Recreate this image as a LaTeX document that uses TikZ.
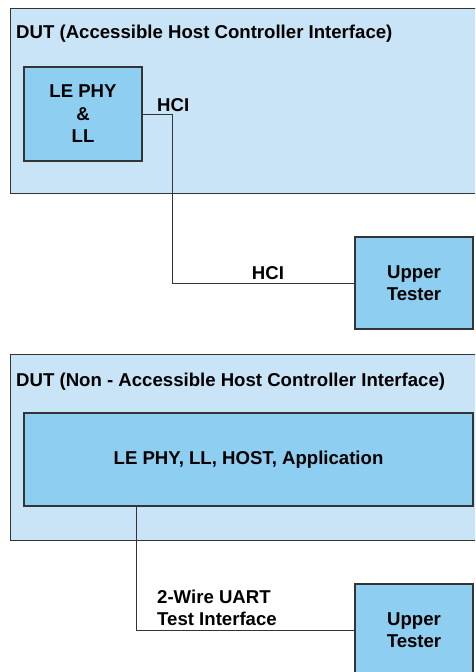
\documentclass[tikz,border=0pt]{standalone}
\usepackage{fontspec}
\setmainfont{Liberation Sans}
\usetikzlibrary{positioning}
\definecolor{dutfill}{RGB}{201,228,246}
\definecolor{blockfill}{RGB}{142,207,241}
\definecolor{edge}{RGB}{52,52,52}
\tikzset{
    normal/.style={draw=edge, line width=1.2pt},
    dut/.style={style=normal, fill=dutfill, anchor=north west, inner sep=0}, % device under test
    block/.style={style=normal, fill=blockfill, align=center, inner sep=0},
    wire/.style={draw=edge, line width=1pt},
    lbl/.style={inner sep=0}
}

\begin{document}
\begin{tikzpicture}[x=1pt, y=-1pt, font=\bfseries\fontsize{18.6}{22.5}\selectfont]
          \useasboundingbox (0,0) rectangle (475,672);
          \clip (0,0) rectangle (475,672);

          % accessible HCI
          \node[dut, minimum width=480pt, minimum height=185pt] (dutA) at (10,8) {};
          \node[lbl, anchor=base west] (titleA) at (16,38) {DUT (Accessible Host Controller Interface)};
          \node[block, minimum width=118pt, minimum height=94pt] (phyA) at (83,114) {LE PHY\\\&\\LL};
          \node[block, minimum width=118pt, minimum height=92pt] (testerA) at (414,283) {Upper\\Tester};
          \node[lbl, anchor=base west] (hciA) at (157,111) {HCI};
          \node[lbl, anchor=base] (hciB) at (268,279) {HCI};

          \draw[wire] (phyA.east) -- ++(30,0) |- (testerA.west);

          % non-accessible HCI
          \node[dut, minimum width=480pt, minimum height=186pt] (dutB) at (10,354) {};
          \node[lbl, anchor=base west] (titleB) at (16,386) {DUT (Non - Accessible Host Controller Interface)};
          \node[block, minimum width=449pt, minimum height=93pt] (phyB) at (248.5,459.5) {LE PHY, LL, HOST, Application};
          \node[block, minimum width=118pt, minimum height=92pt] (testerB) at (414,630) {Upper\\Tester};
          \node[lbl, anchor=north west, align=left, font=\bfseries\fontsize{18.6}{22}\selectfont] (uart) at (157,590) {2-Wire UART\\Test Interface};

          \draw[wire] (phyB.south west) ++(113,0) |- (testerB.west);
        \end{tikzpicture}
\end{document}
